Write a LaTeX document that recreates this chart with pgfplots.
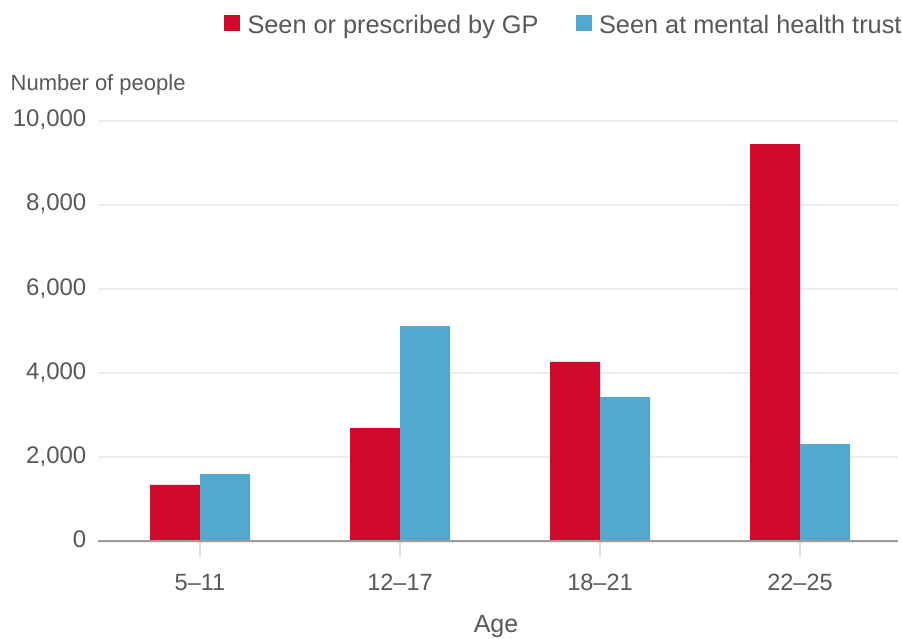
\documentclass[border=0pt]{standalone}
\usepackage{fontspec}
\setmainfont{Liberation Sans}
\usepackage{pgfplots}
\pgfplotsset{compat=1.18}
\definecolor{gpred}{HTML}{CF0A2C}
\definecolor{mhblue}{HTML}{52A8CF}
\definecolor{txtgray}{HTML}{5B5754}
\definecolor{gridgray}{HTML}{EEECE8}
\definecolor{tickgray}{HTML}{E2DFDB}
\definecolor{axisgray}{HTML}{A39B98}
\begin{document}
\begin{tikzpicture}
\begin{axis}[
  at={(98bp,-541.5bp)}, anchor=south west,
  scale only axis, width=800bp, height=420.8bp,
  ymin=0, ymax=10000, xmin=-0.51, xmax=3.49,
  ybar=0pt, bar width=50bp,
  axis x line*=bottom, axis y line*=left,
  x axis line style={draw=none}, y axis line style={draw=none},
  xtick={0,1,2,3}, xticklabels={5--11,12--17,18--21,22--25},
  ytick={0,2000,...,10000}, scaled y ticks=false,
  /pgf/number format/assume math mode=true,
  tick align=outside, major tick length=15bp,
  xtick style={draw=tickgray, line width=2bp},
  ytick style={draw=none},
  ymajorgrids, grid style={draw=gridgray, line width=2bp},
  xticklabel style={font=\fontsize{23.5bp}{27bp}\selectfont, text=txtgray, inner sep=0pt, anchor=base, yshift=-33.5bp},
  yticklabel style={font=\fontsize{24bp}{28bp}\selectfont, text=txtgray, inner sep=0pt, anchor=base east, xshift=3.5bp, yshift=-6bp},
  xlabel={Age},
  xlabel style={at={(axis description cs:0.4975,-0.2174)}, anchor=base, inner sep=0pt, font=\fontsize{25bp}{30bp}\selectfont, text=txtgray},
  ylabel={Number of people},
  ylabel style={rotate=-90, at={(axis description cs:-0.1094,1.0713)}, anchor=base west, inner sep=0pt, font=\fontsize{22bp}{26bp}\selectfont, text=txtgray},
  legend columns=2,
  legend image code/.code={\fill[#1] (0bp,2bp) rectangle (16bp,18bp);},
  legend style={at={(axis description cs:0.1575,1.2517)}, anchor=north west,
    draw=none, fill=none, inner sep=0pt, outer sep=0pt, row sep=0pt,
    font=\fontsize{25.3bp}{30bp}\selectfont, text=txtgray,
    nodes={inner sep=0pt, anchor=base west}, cells={anchor=base west},
    /tikz/every odd column/.append style={column sep=7.5bp},
    /tikz/every even column/.append style={column sep=37bp}},
]
\addplot[fill=gpred, draw=none] coordinates {(0,1343) (1,2697) (2,4266) (3,9446)};
\addplot[fill=mhblue, draw=none] coordinates {(0,1604) (1,5121) (2,3434) (3,2317)};
\legend{Seen or prescribed by GP, Seen at mental health trust}
\draw[axisgray, line width=3.5bp] (rel axis cs:0,0) -- (rel axis cs:1,0);
\end{axis}
\pgfresetboundingbox
\useasboundingbox (0,0) rectangle (902bp,-639bp);
\end{tikzpicture}
\end{document}
